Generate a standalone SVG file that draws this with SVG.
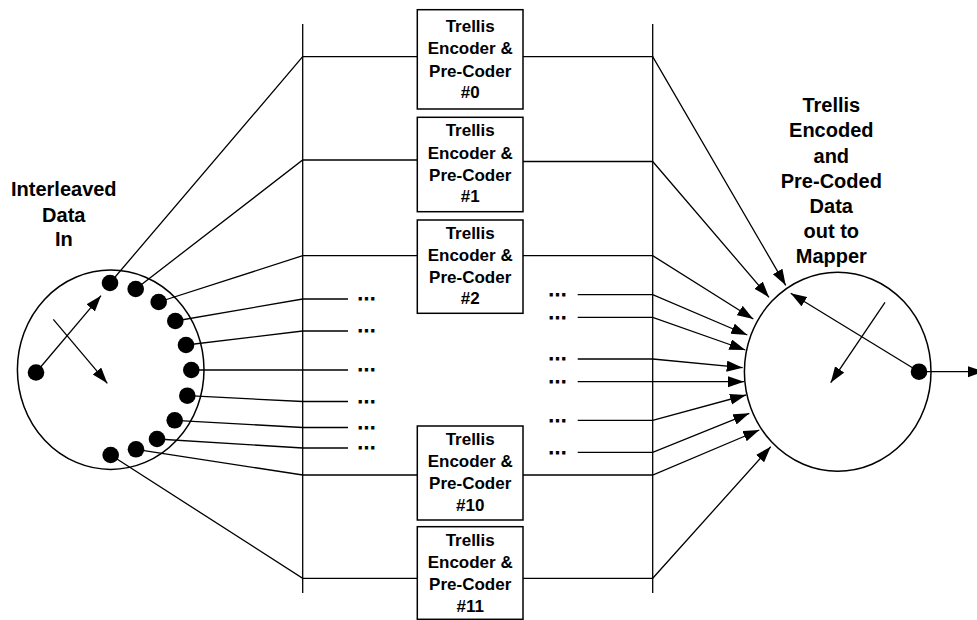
<svg xmlns="http://www.w3.org/2000/svg" width="977" height="620" viewBox="0 0 977 620">
<style>
  .ln{fill:none;stroke:#000;stroke-width:1.3}
  .arr{fill:none;stroke:#000;stroke-width:1.3;marker-end:url(#ah)}
  .ring{fill:#fff;stroke:#000;stroke-width:1.5}
  .box{fill:#fff;stroke:#000;stroke-width:1.5}
  .dot{fill:#000}
  text{font-family:"Liberation Sans",Arial,sans-serif;font-weight:bold;fill:#000}
  .bt{font-size:17px;text-anchor:middle}
  .lab{font-size:20px;text-anchor:middle}
  .ell{font-size:16px;letter-spacing:1.9px;stroke:#000;stroke-width:0.9}
</style>
<defs>
  <marker id="ah" markerUnits="userSpaceOnUse" markerWidth="17" markerHeight="12" refX="16" refY="5.5" orient="auto">
    <path d="M0,0 L16,5.5 L0,11 z" fill="#000"/>
  </marker>
</defs>

<g id="rails">
  <line class="ln" x1="302.7" y1="24" x2="302.7" y2="593"/>
  <line class="ln" x1="652.7" y1="24" x2="652.7" y2="593"/>
</g>

<g id="left-node">
  <ellipse class="ring" cx="110.7" cy="369.7" rx="93.3" ry="99.7"/>
</g>
<g id="right-node">
  <ellipse class="ring" cx="837.7" cy="371.7" rx="93.3" ry="99.5"/>
</g>

<g id="connectors">
  <polyline class="ln" points="110,283 302.7,56.7 417.3,56.7"/>
  <polyline class="ln" points="135.7,289 302.7,160 417.3,160"/>
  <polyline class="ln" points="158.7,302 302.7,255.7 417.3,255.7"/>
  <polyline class="ln" points="175.3,321 302.7,299 348,299"/>
  <polyline class="ln" points="186,345 302.7,331 348,331"/>
  <polyline class="ln" points="191.3,370 302.7,370 348,370"/>
  <polyline class="ln" points="187.3,395.7 302.7,401.5 348,401.5"/>
  <polyline class="ln" points="174.7,420.3 302.7,427.5 348,427.5"/>
  <polyline class="ln" points="157,439 302.7,448 348,448"/>
  <polyline class="ln" points="136,449.3 302.7,475 417.3,475"/>
  <polyline class="ln" points="110.7,455 302.7,578.3 417.3,578.3"/>
  <polyline class="arr" points="523,56.7 652.7,56.7 785.7,285.3"/>
  <polyline class="arr" points="523,161.5 652.7,161.5 769,297.3"/>
  <polyline class="arr" points="523,255.7 652.7,255.7 753.3,319"/>
  <polyline class="arr" points="577.7,294.7 652.7,294.7 747.3,335"/>
  <polyline class="arr" points="577.7,317.3 652.7,317.3 745.3,350"/>
  <polyline class="arr" points="577.7,359 652.7,359 742.7,367.7"/>
  <polyline class="arr" points="577.7,381.7 652.7,381.7 744,381.7"/>
  <polyline class="arr" points="577.7,420.3 652.7,420.3 746,395"/>
  <polyline class="arr" points="577.7,452.3 652.7,452.3 749.3,413.3"/>
  <polyline class="arr" points="523,475 652.7,475 759.3,430"/>
  <polyline class="arr" points="523,578.3 652.7,578.3 770.7,446.7"/>
  <line class="arr" x1="919" y1="371.7" x2="984" y2="371.7"/>
</g>

<g id="left-node-detail">
  <line class="arr" x1="36" y1="372.5" x2="101" y2="295.7"/>
  <line class="arr" x1="53.3" y1="319.3" x2="107.3" y2="383.3"/>
  <circle class="dot" cx="36" cy="372.5" r="8.3"/>
  <circle class="dot" cx="110" cy="283" r="8.3"/>
  <circle class="dot" cx="135.7" cy="289" r="8.3"/>
  <circle class="dot" cx="158.7" cy="302" r="8.3"/>
  <circle class="dot" cx="175.3" cy="321" r="8.3"/>
  <circle class="dot" cx="186" cy="345" r="8.3"/>
  <circle class="dot" cx="191.3" cy="370" r="8.3"/>
  <circle class="dot" cx="187.3" cy="395.7" r="8.3"/>
  <circle class="dot" cx="174.7" cy="420.3" r="8.3"/>
  <circle class="dot" cx="157" cy="439" r="8.3"/>
  <circle class="dot" cx="136" cy="449.3" r="8.3"/>
  <circle class="dot" cx="110.7" cy="455" r="8.3"/>
</g>

<g id="right-node-detail">
  <line class="arr" x1="919" y1="371.7" x2="790.7" y2="293.3"/>
  <line class="arr" x1="885" y1="302.3" x2="830.7" y2="382.7"/>
  <circle class="dot" cx="919" cy="371.7" r="8.3"/>
</g>

<g id="box0">
  <rect class="box" x="417.3" y="9.7" width="105.7" height="99.3"/>
  <text class="bt" x="470.2" y="32.3">Trellis</text>
  <text class="bt" x="470.2" y="54.3">Encoder &amp;</text>
  <text class="bt" x="470.2" y="76.7">Pre-Coder</text>
  <text class="bt" x="470.2" y="97.7">#0</text>
</g>
<g id="box1">
  <rect class="box" x="417.3" y="117.3" width="105.7" height="94.4"/>
  <text class="bt" x="470.2" y="136">Trellis</text>
  <text class="bt" x="470.2" y="158.5">Encoder &amp;</text>
  <text class="bt" x="470.2" y="180.5">Pre-Coder</text>
  <text class="bt" x="470.2" y="202">#1</text>
</g>
<g id="box2">
  <rect class="box" x="417.3" y="220" width="105.7" height="93.3"/>
  <text class="bt" x="470.2" y="239">Trellis</text>
  <text class="bt" x="470.2" y="261">Encoder &amp;</text>
  <text class="bt" x="470.2" y="282.7">Pre-Coder</text>
  <text class="bt" x="470.2" y="304.3">#2</text>
</g>
<g id="box10">
  <rect class="box" x="417.3" y="426" width="105.7" height="94"/>
  <text class="bt" x="470.2" y="445">Trellis</text>
  <text class="bt" x="470.2" y="467">Encoder &amp;</text>
  <text class="bt" x="470.2" y="489">Pre-Coder</text>
  <text class="bt" x="470.2" y="510.7">#10</text>
</g>
<g id="box11">
  <rect class="box" x="417.3" y="526.7" width="105.7" height="92.6"/>
  <text class="bt" x="470.2" y="545.7">Trellis</text>
  <text class="bt" x="470.2" y="567.7">Encoder &amp;</text>
  <text class="bt" x="470.2" y="589.7">Pre-Coder</text>
  <text class="bt" x="470.2" y="611.7">#11</text>
</g>

<g id="ellipses-left">
  <text class="ell" x="357.9" y="300.2">...</text>
  <text class="ell" x="357.9" y="332.2">...</text>
  <text class="ell" x="357.9" y="371.2">...</text>
  <text class="ell" x="357.9" y="402.7">...</text>
  <text class="ell" x="357.9" y="428.7">...</text>
  <text class="ell" x="357.9" y="449.2">...</text>
</g>
<g id="ellipses-right">
  <text class="ell" x="548.9" y="295.9">...</text>
  <text class="ell" x="548.9" y="318.5">...</text>
  <text class="ell" x="548.9" y="360.2">...</text>
  <text class="ell" x="548.9" y="382.9">...</text>
  <text class="ell" x="548.9" y="421.5">...</text>
  <text class="ell" x="548.9" y="453.5">...</text>
</g>

<g id="label-in">
  <text class="lab" x="63.8" y="195.5">Interleaved</text>
  <text class="lab" x="63.8" y="221.5">Data</text>
  <text class="lab" x="63.8" y="246">In</text>
</g>
<g id="label-out">
  <text class="lab" x="831.3" y="111.7">Trellis</text>
  <text class="lab" x="831.3" y="136.7">Encoded</text>
  <text class="lab" x="831.3" y="162.5">and</text>
  <text class="lab" x="831.3" y="187.7">Pre-Coded</text>
  <text class="lab" x="831.3" y="213.3">Data</text>
  <text class="lab" x="831.3" y="238.3">out to</text>
  <text class="lab" x="831.3" y="263.3">Mapper</text>
</g>
</svg>
